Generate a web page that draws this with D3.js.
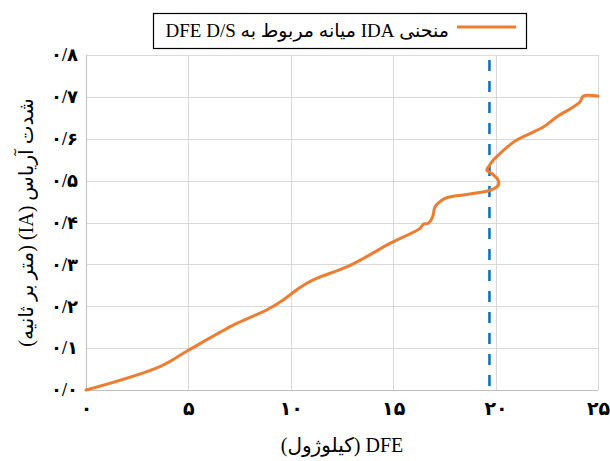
<!DOCTYPE html>
<html>
<head>
<meta charset="utf-8">
<script src="https://cdn.jsdelivr.net/npm/d3@7"></script>
<style>
  html, body { margin: 0; padding: 0; background: #fff; }
  svg { display: block; }
  .tick text { font-family: "Liberation Serif", "DejaVu Sans", serif; fill: #000; }
</style>
</head>
<body>
<svg id="chart" width="610" height="461"></svg>
<script>
// DFE (kJ) along the median IDA curve
const dfeValues = [0, 3.61, 5.0, 7.36, 8.82, 9.63, 10.45, 11.1, 12.73, 13.54, 14.84, 16.31,
  16.47, 16.71, 16.93, 17.04, 17.37, 17.61, 18.59, 19.73, 20.13, 20.13, 19.81, 19.57,
  19.64, 19.89, 20.54, 21.03, 22.33, 22.98, 23.79, 24.12, 24.28, 25.0];
// Arias intensity IA (m/s) at each point
const iaValues = [0, 0.056, 0.095, 0.159, 0.191, 0.215, 0.245, 0.263, 0.294, 0.314, 0.350, 0.386,
  0.396, 0.398, 0.414, 0.437, 0.453, 0.459, 0.467, 0.477, 0.489, 0.501, 0.517, 0.525,
  0.532, 0.549, 0.579, 0.597, 0.628, 0.652, 0.676, 0.688, 0.702, 0.702];
// DFE D/S threshold (vertical dashed line)
const dsThreshold = 19.7;

const xTicks = [0, 5, 10, 15, 20, 25];
const yTicks = [0, 0.1, 0.2, 0.3, 0.4, 0.5, 0.6, 0.7, 0.8];

const legendLabel = "منحنی IDA میانه مربوط به DFE D/S";
const xTitle = "DFE (کیلوژول)";
const yTitle = "شدت آریاس (IA) (متر بر ثانیه)";

const W = 610, H = 461;
const margin = { top: 55, right: 12, bottom: 71, left: 86 };

const faDigits = "۰۱۲۳۴۵۶۷۸۹";
const toFa = s => String(s).replace(/[0-9]/g, d => faDigits[+d]).replace(".", "/");

const svg = d3.select("#chart");

const x = d3.scaleLinear().domain([0, 25]).range([margin.left, W - margin.right]);
const y = d3.scaleLinear().domain([0, 0.8]).range([H - margin.bottom, margin.top]);

// gridlines
const grid = svg.append("g").attr("stroke", "#d9d9d9").attr("stroke-width", 1);
grid.selectAll("line.h").data(yTicks).join("line")
  .attr("x1", x(0)).attr("x2", x(25))
  .attr("y1", d => Math.round(y(d)) + 0.5).attr("y2", d => Math.round(y(d)) + 0.5);
grid.selectAll("line.v").data(xTicks).join("line")
  .attr("y1", y(0)).attr("y2", y(0.8))
  .attr("x1", d => Math.round(x(d)) + 0.5).attr("x2", d => Math.round(x(d)) + 0.5);

// axes (labels only)
const xAxis = svg.append("g")
  .attr("transform", `translate(0,${y(0)})`)
  .call(d3.axisBottom(x).tickValues(xTicks).tickSize(0).tickPadding(12).tickFormat(d => toFa(d)));
xAxis.select(".domain").remove();
xAxis.selectAll("text").attr("font-size", 19).attr("font-weight", "bold");

const yAxis = svg.append("g")
  .attr("transform", `translate(${x(0)},0)`)
  .call(d3.axisLeft(y).tickValues(yTicks).tickSize(0).tickPadding(8).tickFormat(d => toFa(d.toFixed(1))));
yAxis.select(".domain").remove();
yAxis.selectAll("text").attr("font-size", 18).attr("font-weight", "bold").attr("direction", "ltr");

// axis lines
svg.append("line").attr("x1", x(0)).attr("x2", x(25))
  .attr("y1", Math.round(y(0)) + 0.5).attr("y2", Math.round(y(0)) + 0.5)
  .attr("stroke", "#bfbfbf").attr("stroke-width", 1);
svg.append("line").attr("x1", Math.round(x(0)) + 0.5).attr("x2", Math.round(x(0)) + 0.5)
  .attr("y1", y(0)).attr("y2", y(0.8))
  .attr("stroke", "#bfbfbf").attr("stroke-width", 1);

// threshold
svg.append("line")
  .attr("x1", x(dsThreshold)).attr("x2", x(dsThreshold))
  .attr("y1", y(0.8) + 5).attr("y2", y(0))
  .attr("stroke", "#0070c0").attr("stroke-width", 2.5)
  .attr("stroke-dasharray", "11,10");

// IDA curve
const pts = dfeValues.map((v, i) => [v, iaValues[i]]);
const line = d3.line().x(d => x(d[0])).y(d => y(d[1])).curve(d3.curveCatmullRom.alpha(0.5));
svg.append("path").datum(pts)
  .attr("d", line)
  .attr("fill", "none")
  .attr("stroke", "#ed7d31")
  .attr("stroke-width", 3)
  .attr("stroke-linejoin", "round")
  .attr("stroke-linecap", "round");

// legend
const lg = svg.append("g");
lg.append("rect").attr("x", 153.5).attr("y", 13.5).attr("width", 373).attr("height", 35)
  .attr("fill", "#fff").attr("stroke", "#000").attr("stroke-width", 1.2);
lg.append("line").attr("x1", 457).attr("x2", 516).attr("y1", 27).attr("y2", 27)
  .attr("stroke", "#ed7d31").attr("stroke-width", 3);
lg.append("text").attr("x", 449).attr("y", 37)
  .attr("direction", "rtl").attr("text-anchor", "start")
  .attr("font-family", "Liberation Serif, DejaVu Sans, serif").attr("font-size", 19)
  .text(legendLabel);

// axis titles
svg.append("text")
  .attr("x", (x(0) + x(25)) / 2).attr("y", 452)
  .attr("direction", "rtl").attr("text-anchor", "middle")
  .attr("font-family", "Liberation Serif, DejaVu Sans, serif").attr("font-size", 20)
  .text(xTitle);

svg.append("text")
  .attr("transform", `translate(33,${(y(0) + y(0.8)) / 2}) rotate(-90)`)
  .attr("direction", "rtl").attr("text-anchor", "middle")
  .attr("font-family", "Liberation Serif, DejaVu Sans, serif").attr("font-size", 20)
  .text(yTitle);
</script>
</body>
</html>
